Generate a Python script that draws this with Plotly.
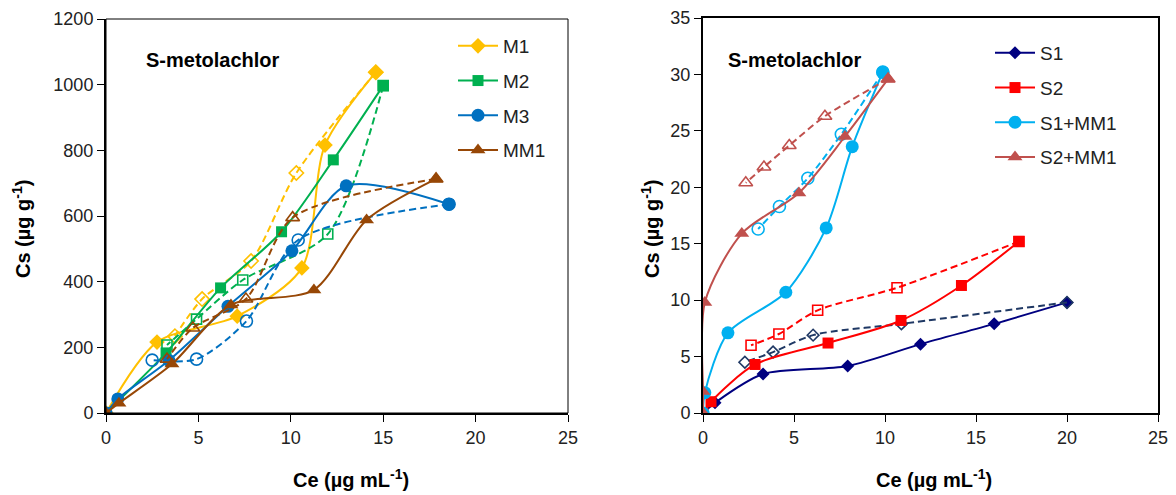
import plotly.graph_objects as go

# ---------------- data: left chart (M series) ----------------
M1_x = [0, 2.76, 7.1, 10.6, 11.85, 14.6]
M1_y = [0, 216, 295, 442, 816, 1038]
M1d_x = [14.6, 10.3, 7.85, 5.2, 3.73]
M1d_y = [1038, 731, 463, 347, 234]

M2_x = [0, 3.25, 6.2, 9.5, 12.3, 15.0]
M2_y = [0, 183, 381, 552, 771, 997]
M2d_x = [15.0, 12.0, 7.4, 4.9, 3.3]
M2d_y = [997, 545, 405, 286, 207]

M3_x = [0, 0.64, 3.4, 6.6, 10.06, 13.0, 18.56]
M3_y = [0, 43, 160, 325, 494, 692, 636]
M3d_x = [18.56, 10.4, 7.6, 4.9, 2.5]
M3d_y = [636, 527, 280, 164, 161]

MM1_x = [0, 0.7, 3.57, 6.76, 11.25, 14.1, 17.86]
MM1_y = [0, 30, 149, 329, 375, 588, 713]
MM1d_x = [17.86, 10.1, 7.57, 4.7, 3.3]
MM1d_y = [713, 595, 347, 259, 164]

# ---------------- data: right chart (S series) ----------------
S1_x = [0, 0.66, 3.3, 7.95, 11.95, 16.0, 20.0]
S1_y = [0, 0.9, 3.45, 4.16, 6.1, 7.9, 9.8]
S1d_x = [20.0, 10.9, 6.05, 3.85, 2.3]
S1d_y = [9.8, 7.9, 6.9, 5.4, 4.5]

S2_x = [0, 0.44, 2.86, 6.87, 10.88, 14.2, 17.36]
S2_y = [0, 1.0, 4.3, 6.2, 8.2, 11.3, 15.2]
S2d_x = [17.36, 10.66, 6.3, 4.17, 2.64]
S2d_y = [15.2, 11.1, 9.1, 7.0, 6.0]

S1MM1_x = [0, 0.1, 1.37, 4.55, 6.77, 8.2, 9.88]
S1MM1_y = [0, 1.8, 7.1, 10.7, 16.4, 23.6, 30.2]
S1MM1d_x = [9.88, 7.6, 5.76, 4.2, 3.03]
S1MM1d_y = [30.2, 24.7, 20.8, 18.3, 16.3]

S2MM1_x = [0, 0, 0.1, 2.13, 5.27, 7.8, 10.17]
S2MM1_y = [0, 1.9, 9.8, 15.9, 19.5, 24.5, 29.6]
S2MM1d_x = [10.17, 6.7, 4.74, 3.35, 2.35]
S2MM1d_y = [29.6, 26.3, 23.7, 21.8, 20.4]

left_ticks_x = [0, 5, 10, 15, 20, 25]
left_ticks_y = [0, 200, 400, 600, 800, 1000, 1200]
right_ticks_x = [0, 5, 10, 15, 20, 25]
right_ticks_y = [0, 5, 10, 15, 20, 25, 30, 35]

FONT = "Liberation Sans, Arial, sans-serif"
DASH = "7px,4px"

fig = go.Figure()

def add_pair(name, x, y, xd, yd, color, sym, size, xa, ya, legend, dcolor=None):
    dcolor = dcolor or color
    fig.add_trace(go.Scatter(
        x=x, y=y, name=name, mode="lines+markers", xaxis=xa, yaxis=ya,
        line=dict(color=color, width=2, shape="spline", smoothing=0.8),
        marker=dict(symbol=sym, size=size, color=color),
        legend=legend, legendgroup=name))
    fig.add_trace(go.Scatter(
        x=xd, y=yd, name=name + " des", mode="lines+markers", xaxis=xa, yaxis=ya,
        line=dict(color=dcolor, width=2, dash=DASH, shape="spline", smoothing=0.8),
        marker=dict(symbol=sym + "-open", size=size - 1, color=dcolor,
                    line=dict(width=1.6, color=dcolor)),
        showlegend=False, legendgroup=name))

add_pair("M1", M1_x, M1_y, M1d_x, M1d_y, "#FFC000", "diamond", 12, "x", "y", "legend")
add_pair("M2", M2_x, M2_y, M2d_x, M2d_y, "#00B050", "square", 11, "x", "y", "legend")
add_pair("M3", M3_x, M3_y, M3d_x, M3d_y, "#0070C0", "circle", 13, "x", "y", "legend")
add_pair("MM1", MM1_x, MM1_y, MM1d_x, MM1d_y, "#974706", "triangle-up", 13, "x", "y", "legend")

add_pair("S1", S1_x, S1_y, S1d_x, S1d_y, "#000080", "diamond", 10, "x2", "y2", "legend2", "#1F3864")
add_pair("S2", S2_x, S2_y, S2d_x, S2d_y, "#FF0000", "square", 11, "x2", "y2", "legend2")
add_pair("S1+MM1", S1MM1_x, S1MM1_y, S1MM1d_x, S1MM1d_y, "#00B0F0", "circle", 13, "x2", "y2", "legend2")
add_pair("S2+MM1", S2MM1_x, S2MM1_y, S2MM1d_x, S2MM1d_y, "#C0504D", "triangle-up", 13, "x2", "y2", "legend2")

W, H = 1176, 495

def px(x):
    return x / W

def py(y):
    return 1 - y / H

axis_common = dict(showgrid=False, zeroline=False, showline=True, linecolor="black",
                   linewidth=2, ticks="outside", ticklen=7, tickwidth=1, tickcolor="black",
                   automargin=False,
                   tickfont=dict(family=FONT, size=18, color="#222"))

fig.update_layout(
    width=W, height=H, margin=dict(l=0, r=0, t=0, b=0, pad=0, autoexpand=False),
    paper_bgcolor="white", plot_bgcolor="white", font=dict(family=FONT),
    xaxis=dict(domain=[px(106), px(568)], range=[0, 25], tickvals=left_ticks_x, anchor="y",
               **axis_common),
    yaxis=dict(domain=[py(413), py(19)], range=[0, 1200], tickvals=left_ticks_y, anchor="x",
               **axis_common),
    xaxis2=dict(domain=[px(703), px(1158)], range=[0, 25], tickvals=right_ticks_x, anchor="y2",
                mirror=True, **axis_common),
    yaxis2=dict(domain=[py(413), py(18)], range=[0, 35], tickvals=right_ticks_y, anchor="x2",
                mirror=True, **axis_common),
    legend=dict(x=px(453), y=py(27), xanchor="left", yanchor="top",
                font=dict(family=FONT, size=19, color="#222"), bgcolor="rgba(0,0,0,0)",
                tracegroupgap=7, itemwidth=40),
    legend2=dict(x=px(990), y=py(34), xanchor="left", yanchor="top",
                 font=dict(family=FONT, size=19, color="#222"), bgcolor="rgba(0,0,0,0)",
                 tracegroupgap=7, itemwidth=40),
)

# thin frame on left chart (top and right)
fig.add_shape(type="rect", xref="x domain", yref="y domain", x0=0, x1=1, y0=0, y1=1,
              line=dict(color="black", width=1), layer="above")

ann = []
for x, y in [(144, 60), (726, 60)]:
    ann.append(dict(text="<b>S-metolachlor</b>", x=px(x), y=py(y), xref="paper", yref="paper",
                    xanchor="left", yanchor="middle", showarrow=False,
                    font=dict(family=FONT, size=20, color="black")))
for x in [21, 650]:
    ann.append(dict(text="<b>Cs (µg g<sup>-1</sup>)</b>", x=px(x), y=py(229), xref="paper",
                    yref="paper", xanchor="center", yanchor="middle", textangle=-90,
                    showarrow=False, font=dict(family=FONT, size=20, color="black")))
for x in [351, 934]:
    ann.append(dict(text="<b>Ce (µg mL<sup>-1</sup>)</b>", x=px(x), y=py(478), xref="paper",
                    yref="paper", xanchor="center", yanchor="middle", showarrow=False,
                    font=dict(family=FONT, size=20, color="black")))
fig.update_layout(annotations=ann)

fig.write_html("out.html", post_script="document.body.style.margin='0';")
